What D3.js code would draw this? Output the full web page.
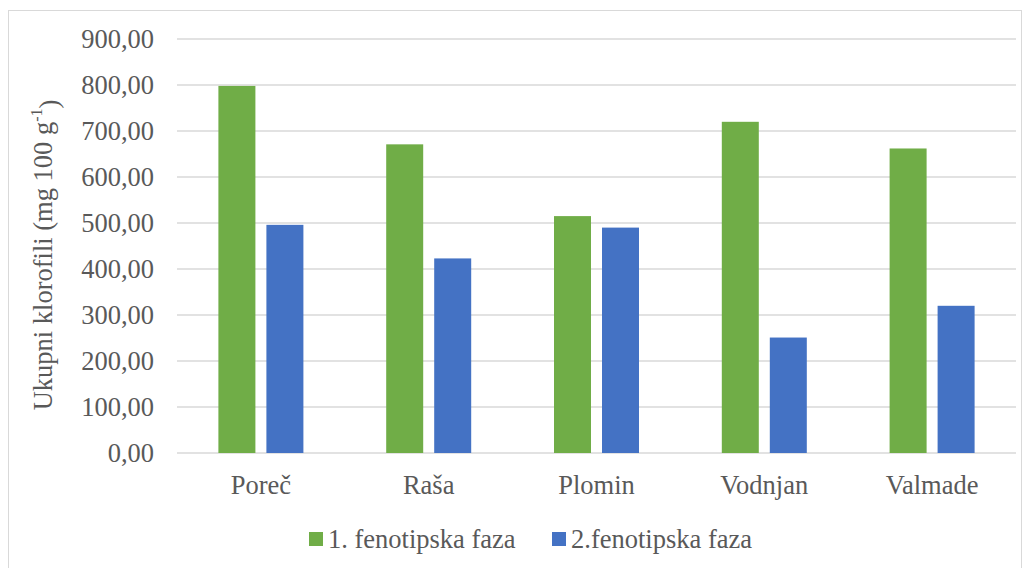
<html>
<head>
<meta charset="utf-8">
<script src="https://d3js.org/d3.v7.min.js"></script>
<style>
body { margin: 0; background: #fff; }
svg text { font-family: "Liberation Serif", "Times New Roman", serif; fill: #595959; }
</style>
</head>
<body>
<svg id="chart" width="1030" height="568"></svg>
<script>
// values
var places = ["Poreč", "Raša", "Plomin", "Vodnjan", "Valmade"];
var faza1 = [798, 671, 515, 720, 662];
var faza2 = [496, 423, 490, 251, 320];
var seriesNames = ["1. fenotipska faza", "2.fenotipska faza"];
var seriesColors = ["#70ad47", "#4472c4"];
var yTicks = [0, 100, 200, 300, 400, 500, 600, 700, 800, 900];

var svg = d3.select("#chart");
var plotLeft = 177, plotRight = 1016, plotTop = 39, plotBottom = 453;
var fs = "26.5px";

// outer frame
svg.append("rect")
  .attr("x", 8.5).attr("y", 10.5)
  .attr("width", 1013).attr("height", 570)
  .attr("fill", "none").attr("stroke", "#d9d9d9");

var x = d3.scaleBand().domain(places).range([plotLeft, plotRight]);
var y = d3.scaleLinear().domain([0, 900]).range([plotBottom, plotTop]);

var fmt = function(d){ return d3.format(".2f")(d).replace(".", ","); };

// gridlines
svg.append("g").selectAll("line")
  .data(yTicks)
  .enter().append("line")
  .attr("x1", plotLeft).attr("x2", plotRight)
  .attr("y1", function(d){ return y(d); })
  .attr("y2", function(d){ return y(d); })
  .attr("stroke", "#d9d9d9").attr("stroke-width", 1.5);

// y labels
svg.append("g").selectAll("text")
  .data(yTicks)
  .enter().append("text")
  .attr("x", 154)
  .attr("y", function(d){ return y(d); })
  .attr("dy", "0.35em")
  .attr("text-anchor", "end")
  .style("font-size", fs)
  .text(fmt);

var barW = 37, gap = 11;
var series = [faza1, faza2];
series.forEach(function(vals, s) {
  svg.append("g").selectAll("rect")
    .data(vals)
    .enter().append("rect")
    .attr("x", function(d, i){
      var c = x(places[i]) + x.bandwidth() / 2;
      return s == 0 ? c - gap/2 - barW : c + gap/2;
    })
    .attr("y", function(d){ return y(d); })
    .attr("width", barW)
    .attr("height", function(d){ return plotBottom - y(d); })
    .attr("fill", seriesColors[s]);
});

// category labels
svg.append("g").selectAll("text")
  .data(places)
  .enter().append("text")
  .attr("x", function(d){ return x(d) + x.bandwidth()/2; })
  .attr("y", 494)
  .attr("text-anchor", "middle")
  .style("font-size", fs)
  .text(function(d){ return d; });

// y title
var yt = svg.append("text")
  .attr("transform", "translate(52,255) rotate(-90)")
  .attr("text-anchor", "middle")
  .style("font-size", fs);
yt.append("tspan").text("Ukupni klorofili (mg 100 g");
yt.append("tspan").attr("dy", "-0.6em").style("font-size", "16px").text("-1");
yt.append("tspan").attr("dy", "0.6em").text(")");

// legend
var legX = [309, 552];
seriesNames.forEach(function(n, i) {
  svg.append("rect")
    .attr("x", legX[i]).attr("y", 532)
    .attr("width", 14).attr("height", 14)
    .attr("fill", seriesColors[i]);
  svg.append("text")
    .attr("x", legX[i] + 19).attr("y", 548)
    .style("font-size", fs)
    .text(n);
});
</script>
</body>
</html>
